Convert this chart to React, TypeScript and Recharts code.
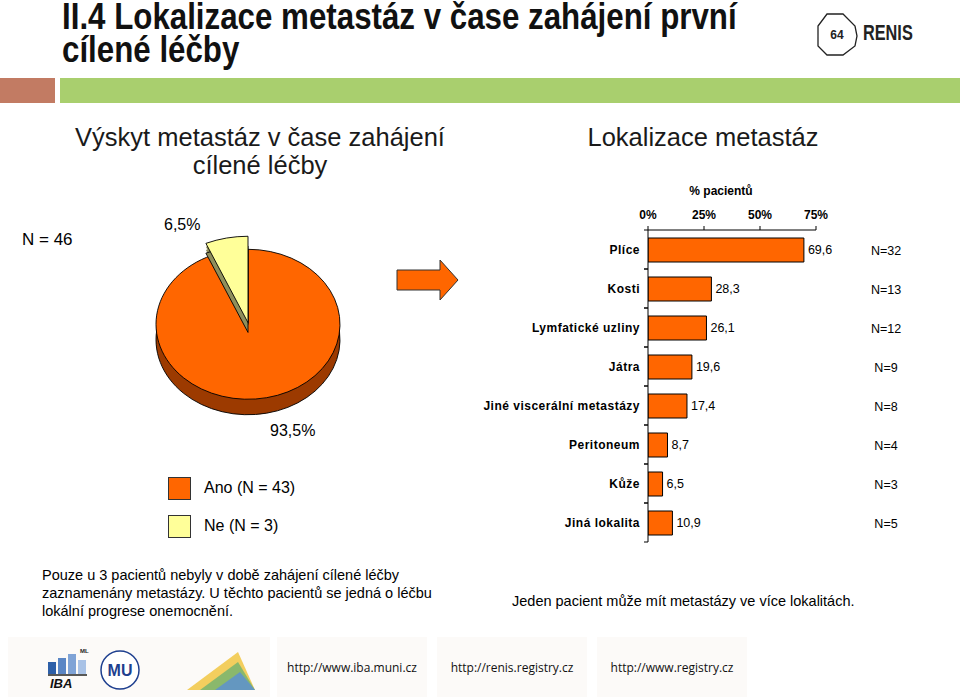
import React from 'react';
import {
  BarChart, Bar, XAxis, YAxis, LabelList, PieChart, Pie, Cell,
} from 'recharts';

// ---------- data ----------
const locations = ['Plíce', 'Kosti', 'Lymfatické uzliny', 'Játra', 'Jiné viscerální metastázy', 'Peritoneum', 'Kůže', 'Jiná lokalita'];
const locationPercent = [69.6, 28.3, 26.1, 19.6, 17.4, 8.7, 6.5, 10.9];
const locationCounts = [32, 13, 12, 9, 8, 4, 3, 5];
const percentTicks = [0, 25, 50, 75];

const pieNames = ['Ano', 'Ne'];
const pieCounts = [43, 3];
const piePercent = [93.5, 6.5];

const ORANGE = '#ff6600';
const YELLOW = '#ffff99';
const ORANGE_SIDE = '#9c3a00';
const YELLOW_SIDE = '#8f8f5c';
const DEPTHS = [4, 8, 12, 16, 19];

const barData = locations.map((name, i) => ({ name, value: locationPercent[i], n: locationCounts[i] }));
const pieData = pieNames.map((name, i) => ({ name: `${name} (N = ${pieCounts[i]})`, value: piePercent[i] }));
const pieColors = [ORANGE, YELLOW];
const totalN = pieCounts.reduce((a, b) => a + b, 0);
const comma = (v: number) => String(v).replace('.', ',');

const SANS = '"Liberation Sans", Arial, Helvetica, sans-serif';

const LeftTick = (props: any) => {
  const { x, y, payload } = props;
  const half = payload && payload.offset ? payload.offset : 19.5;
  return (
    <g>
      <line x1={x + 8} x2={x + 4} y1={y - half} y2={y - half} stroke="#000" />
      <line x1={x + 8} x2={x + 4} y1={y + half} y2={y + half} stroke="#000" />
      <text x={x} y={y} dy={4} textAnchor="end" fontFamily={SANS} fontSize={12} fontWeight="bold" fill="#000" letterSpacing={0.5}>
        {payload.value}
      </text>
    </g>
  );
};

const RightTick = (props: any) => {
  const { x, y, payload } = props;
  return (
    <text x={x} y={y} dx={70} dy={5} textAnchor="middle" fontFamily={SANS} fontSize={12.5} fill="#000">
      {`N=${payload.value}`}
    </text>
  );
};

const TITLE_FONT = '"Liberation Sans Narrow", "Arial Narrow", "Liberation Sans", sans-serif';

export default function App() {
  return (
    <div style={{ position: 'absolute', left: 0, top: 0, width: 960, height: 697, background: '#fff', overflow: 'hidden', fontFamily: SANS, color: '#000' }}>
      {/* title */}
      {['II.4 Lokalizace metastáz v čase zahájení první', 'cílené léčby'].map((line, i) => (
        <div key={i} style={{ position: 'absolute', left: 62, top: i * 33, fontFamily: TITLE_FONT, fontWeight: 'bold', fontSize: 36, lineHeight: '33px', color: '#111', whiteSpace: 'nowrap', transform: 'scaleX(0.869)', transformOrigin: 'left top' }}>
          {line}
        </div>
      ))}
      {/* RENIS logo */}
      <svg style={{ position: 'absolute', left: 815, top: 10 }} width={46} height={50}>
        <polygon points="12,4 28,4 40,16 42,26 40,36 28,45 12,45 3,36 3,16" fill="none" stroke="#222" strokeWidth={1.3} />
        <text x={22} y={29} textAnchor="middle" fontFamily={SANS} fontWeight="bold" fontSize={12} fill="#222">64</text>
      </svg>
      <div style={{ position: 'absolute', left: 863, top: 20, fontFamily: TITLE_FONT, fontWeight: 'bold', fontSize: 22, lineHeight: '26px', color: '#222', transform: 'scaleX(0.74)', transformOrigin: 'left top' }}>
        RENIS
      </div>
      {/* band */}
      <div style={{ position: 'absolute', left: 0, top: 78, width: 55, height: 25, background: '#c27b63' }} />
      <div style={{ position: 'absolute', left: 60, top: 78, width: 900, height: 25, background: '#a9cf6e' }} />

      {/* subtitles */}
      <div style={{ position: 'absolute', left: 60, top: 123, width: 400, textAlign: 'center', fontSize: 25.5, lineHeight: '28px', color: '#1a1a1a' }}>
        Výskyt metastáz v čase zahájení<br />cílené léčby
      </div>
      <div style={{ position: 'absolute', left: 503, top: 123, width: 400, textAlign: 'center', fontSize: 25.5, lineHeight: '28px', color: '#1a1a1a' }}>
        Lokalizace metastáz
      </div>

      <div style={{ position: 'absolute', left: 22, top: 230, fontSize: 17 }}>N = {totalN}</div>

      {/* pie (3D look via vertical scaling and depth layers) */}
      <div style={{ position: 'absolute', left: 148, top: 233.2, width: 200, height: 240, transform: 'scaleY(0.815)', transformOrigin: 'top left' }}>
        <PieChart width={200} height={240} margin={{ top: 0, right: 0, bottom: 0, left: 0 }}>
          {DEPTHS.map((d, k) => (
            <Pie key={`od${d}`} data={pieData} dataKey="value" cx={100} cy={112 + d} outerRadius={92} startAngle={90} endAngle={-270} isAnimationActive={false} stroke="none">
              {pieData.map((_, i) => (
                <Cell key={i} fill={i === 0 ? ORANGE_SIDE : 'none'} stroke={i === 0 && k === DEPTHS.length - 1 ? '#000' : 'none'} strokeWidth={1} />
              ))}
            </Pie>
          ))}
          <Pie data={pieData} dataKey="value" cx={100} cy={112} outerRadius={92} startAngle={90} endAngle={-270} isAnimationActive={false}>
            {pieData.map((_, i) => (
              <Cell key={i} fill={i === 0 ? ORANGE : 'none'} stroke={i === 0 ? '#000' : 'none'} strokeWidth={1} />
            ))}
          </Pie>
          {DEPTHS.slice(0, 3).map((d, k) => (
            <Pie key={`yd${d}`} data={pieData} dataKey="value" cx={100} cy={110 + d} outerRadius={106} startAngle={90} endAngle={-270} isAnimationActive={false} stroke="none">
              {pieData.map((_, i) => (
                <Cell key={i} fill={i === 1 ? YELLOW_SIDE : 'none'} stroke={i === 1 && k === 2 ? '#000' : 'none'} strokeWidth={1} />
              ))}
            </Pie>
          ))}
          <Pie data={pieData} dataKey="value" cx={100} cy={110} outerRadius={106} startAngle={90} endAngle={-270} isAnimationActive={false}>
            {pieData.map((_, i) => (
              <Cell key={i} fill={i === 1 ? YELLOW : 'none'} stroke={i === 1 ? '#000' : 'none'} strokeWidth={1} />
            ))}
          </Pie>
        </PieChart>
      </div>
      <div style={{ position: 'absolute', left: 164, top: 216, fontSize: 16 }}>{comma(piePercent[1])}%</div>
      <div style={{ position: 'absolute', left: 270, top: 422, fontSize: 16 }}>{comma(piePercent[0])}%</div>

      {/* arrow */}
      <svg style={{ position: 'absolute', left: 394, top: 258 }} width={70} height={50}>
        <polygon points="3,12 46,12 46,2 64,22 46,42 46,32 3,32" fill={ORANGE} stroke="#333" strokeWidth={1} />
      </svg>

      {/* legend */}
      {pieData.map((d, i) => (
        <div key={d.name} style={{ position: 'absolute', left: 168, top: 477 + i * 38, height: 22, display: 'flex', alignItems: 'center' }}>
          <div style={{ width: 21, height: 21, background: pieColors[i], border: '1px solid #333' }} />
          <span style={{ marginLeft: 13, fontSize: 16, whiteSpace: 'nowrap' }}>{d.name}</span>
        </div>
      ))}

      {/* bar chart */}
      <div style={{ position: 'absolute', left: 470, top: 170 }}>
        <BarChart width={460} height={390} data={barData} layout="vertical" margin={{ top: 30, right: 14, bottom: 18, left: 8 }} barSize={24}>
          <XAxis
            type="number" orientation="top" domain={[0, 75]} ticks={percentTicks} height={30}
            tickFormatter={(v: number) => `${v}%`} allowDataOverflow
            axisLine={{ stroke: '#000' }} tickLine={{ stroke: '#000' }} tickSize={4} tickMargin={7}
            tick={{ fontFamily: SANS, fontSize: 12, fontWeight: 'bold', fill: '#000' }}
            label={{ value: '% pacientů', position: 'top', offset: 5, dx: -11, style: { fontFamily: SANS, fontSize: 12, fontWeight: 'bold', fill: '#000' } }}
          />
          <YAxis
            yAxisId="left" type="category" dataKey="name" width={170} interval={0}
            axisLine={{ stroke: '#000' }} tickLine={false} tickSize={0} tickMargin={8}
            tick={<LeftTick />}
          />
          <YAxis
            yAxisId="right" orientation="right" type="category" dataKey="n" width={100} interval={0}
            axisLine={false} tickLine={false} tickSize={0} tickMargin={0}
            tick={<RightTick />}
          />
          <Bar yAxisId="left" dataKey="value" fill={ORANGE} stroke="#000" strokeWidth={1} isAnimationActive={false}>
            <LabelList dataKey="value" position="right" offset={4} formatter={(v: any) => comma(v)} style={{ fontFamily: SANS, fontSize: 12.5, fill: '#000' }} />
          </Bar>
        </BarChart>
      </div>

      {/* notes */}
      <div style={{ position: 'absolute', left: 42, top: 566, fontSize: 14.5, lineHeight: '18px', whiteSpace: 'nowrap' }}>
        Pouze u 3 pacientů nebyly v době zahájení cílené léčby<br />
        zaznamenány metastázy. U těchto pacientů se jedná o léčbu<br />
        lokální progrese onemocnění.
      </div>
      <div style={{ position: 'absolute', left: 512, top: 593, fontSize: 14.5, whiteSpace: 'nowrap' }}>
        Jeden pacient může mít metastázy ve více lokalitách.
      </div>

      {/* footer */}
      <div style={{ position: 'absolute', left: 8, top: 637, width: 262, height: 60, background: '#fcfaf8' }} />
      <svg style={{ position: 'absolute', left: 40, top: 648 }} width={230} height={46}>
        <rect x={8} y={14} width={8} height={12} fill="#2d5fa8" />
        <rect x={18} y={10} width={8} height={16} fill="#5a86c5" />
        <rect x={28} y={6} width={8} height={20} fill="#7fa3d6" />
        <rect x={38} y={12} width={8} height={14} fill="#a9c2e6" />
        <text x={40} y={5} fontSize={6} fontWeight="bold" fontFamily={SANS} fill="#222">ML</text>
        <line x1={8} x2={47} y1={27} y2={27} stroke="#222" strokeWidth={1.5} />
        <text x={10} y={40} fontSize={13} fontWeight="bold" fontStyle="italic" fontFamily={SANS} fill="#111">IBA</text>
        <circle cx={80} cy={22} r={19} fill="#fff" stroke="#1e3f8f" strokeWidth={1.5} />
        <text x={80} y={28} textAnchor="middle" fontSize={16} fontWeight="bold" fontFamily={SANS} fill="#1e3f8f">MU</text>
        <polygon points="147,42 215,42 198,4" fill="#f2c94c" opacity={0.9} />
        <polygon points="160,42 215,42 198,14" fill="#6fb36f" opacity={0.8} />
        <polygon points="175,42 215,42 200,24" fill="#5a8fd6" opacity={0.8} />
      </svg>
      {['http://www.iba.muni.cz', 'http://renis.registry.cz', 'http://www.registry.cz'].map((u, i) => (
        <div key={u} style={{ position: 'absolute', left: 277 + i * 160, top: 637, width: 150, height: 60, background: '#fcfaf8', display: 'flex', alignItems: 'center', justifyContent: 'center', fontFamily: '"Open Sans", "Liberation Sans Narrow", sans-serif', fontSize: 12, color: '#111' }}>
          {u}
        </div>
      ))}
    </div>
  );
}
